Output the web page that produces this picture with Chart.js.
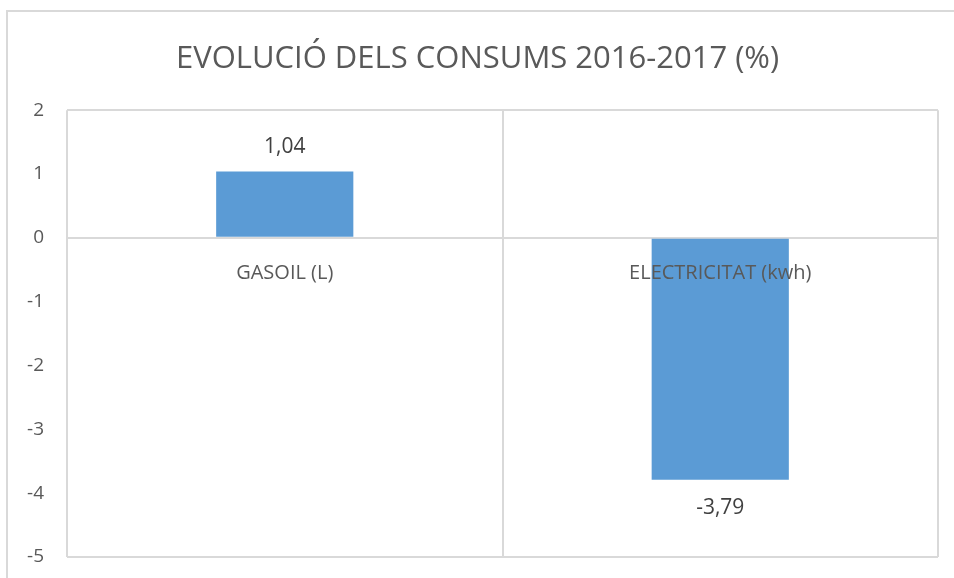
<!DOCTYPE html>
<html>
<head>
<meta charset="utf-8">
<script src="https://cdn.jsdelivr.net/npm/chart.js@4/dist/chart.umd.min.js"></script>
<style>
  body { margin: 0; background: #fff; overflow: hidden; }
  .frame { position: absolute; left: 6px; top: 10px; width: 1000px; height: 700px; border: 2px solid #d9d9d9; }
  .wrap { position: absolute; left: 0; top: 0; width: 954px; height: 578px; }
</style>
</head>
<body>
<div class="frame"></div>
<div class="wrap"><canvas id="chart"></canvas></div>
<script>
const categories = ['GASOIL (L)', 'ELECTRICITAT (kwh)'];
const values = [1.04, -3.79];
const yMin = -5;
const yMax = 2;

const gridColor = '#d9d9d9';
const textColor = '#595959';

// etiquetes de dades sobre/sota cada barra
const barLabels = {
  id: 'barLabels',
  afterDatasetsDraw(chart) {
    const ctx = chart.ctx;
    const meta = chart.getDatasetMeta(0);
    ctx.save();
    ctx.font = '21px "Open Sans"';
    ctx.fillStyle = '#404040';
    ctx.textAlign = 'center';
    ctx.textBaseline = 'middle';
    meta.data.forEach((bar, i) => {
      const v = values[i];
      const y = v >= 0 ? bar.y - 24 : bar.y + 28;
      ctx.fillText(String(v).replace('.', ','), bar.x, y);
    });
    ctx.restore();
  }
};

new Chart(document.getElementById('chart'), {
  type: 'bar',
  data: {
    labels: categories,
    datasets: [{
      data: values,
      backgroundColor: '#5b9bd5',
      barPercentage: 1,
      categoryPercentage: 0.315
    }]
  },
  options: {
    responsive: true,
    maintainAspectRatio: false,
    animation: false,
    layout: { padding: { left: 17, right: 16, bottom: 21, top: 0 } },
    plugins: {
      legend: { display: false },
      tooltip: { enabled: false },
      title: {
        display: true,
        text: 'EVOLUCIÓ DELS CONSUMS 2016-2017 (%)',
        color: textColor,
        font: { family: 'Open Sans', size: 31, weight: 'normal' },
        padding: { top: 41, bottom: 32 }
      }
    },
    scales: {
      x: {
        position: { y: 0 },
        grid: { color: gridColor, lineWidth: 2, drawTicks: false },
        border: { color: gridColor, width: 2 },
        ticks: {
          z: 1,
          color: textColor,
          font: { family: 'Open Sans', size: 20 },
          padding: 23
        }
      },
      y: {
        min: yMin,
        max: yMax,
        afterFit: (s) => { s.width = 50; s.paddingTop = 0; s.paddingBottom = 0; },
        grid: {
          color: (c) => (c.tick && (c.tick.value === yMax || c.tick.value === yMin || c.tick.value === 0)) ? gridColor : 'rgba(0,0,0,0)',
          lineWidth: 2,
          drawTicks: false
        },
        border: { display: false },
        ticks: {
          stepSize: 1,
          color: textColor,
          font: { family: 'Open Sans', size: 19 },
          padding: 23,
          callback: (v) => String(v)
        }
      }
    }
  },
  plugins: [barLabels]
});
</script>
</body>
</html>
